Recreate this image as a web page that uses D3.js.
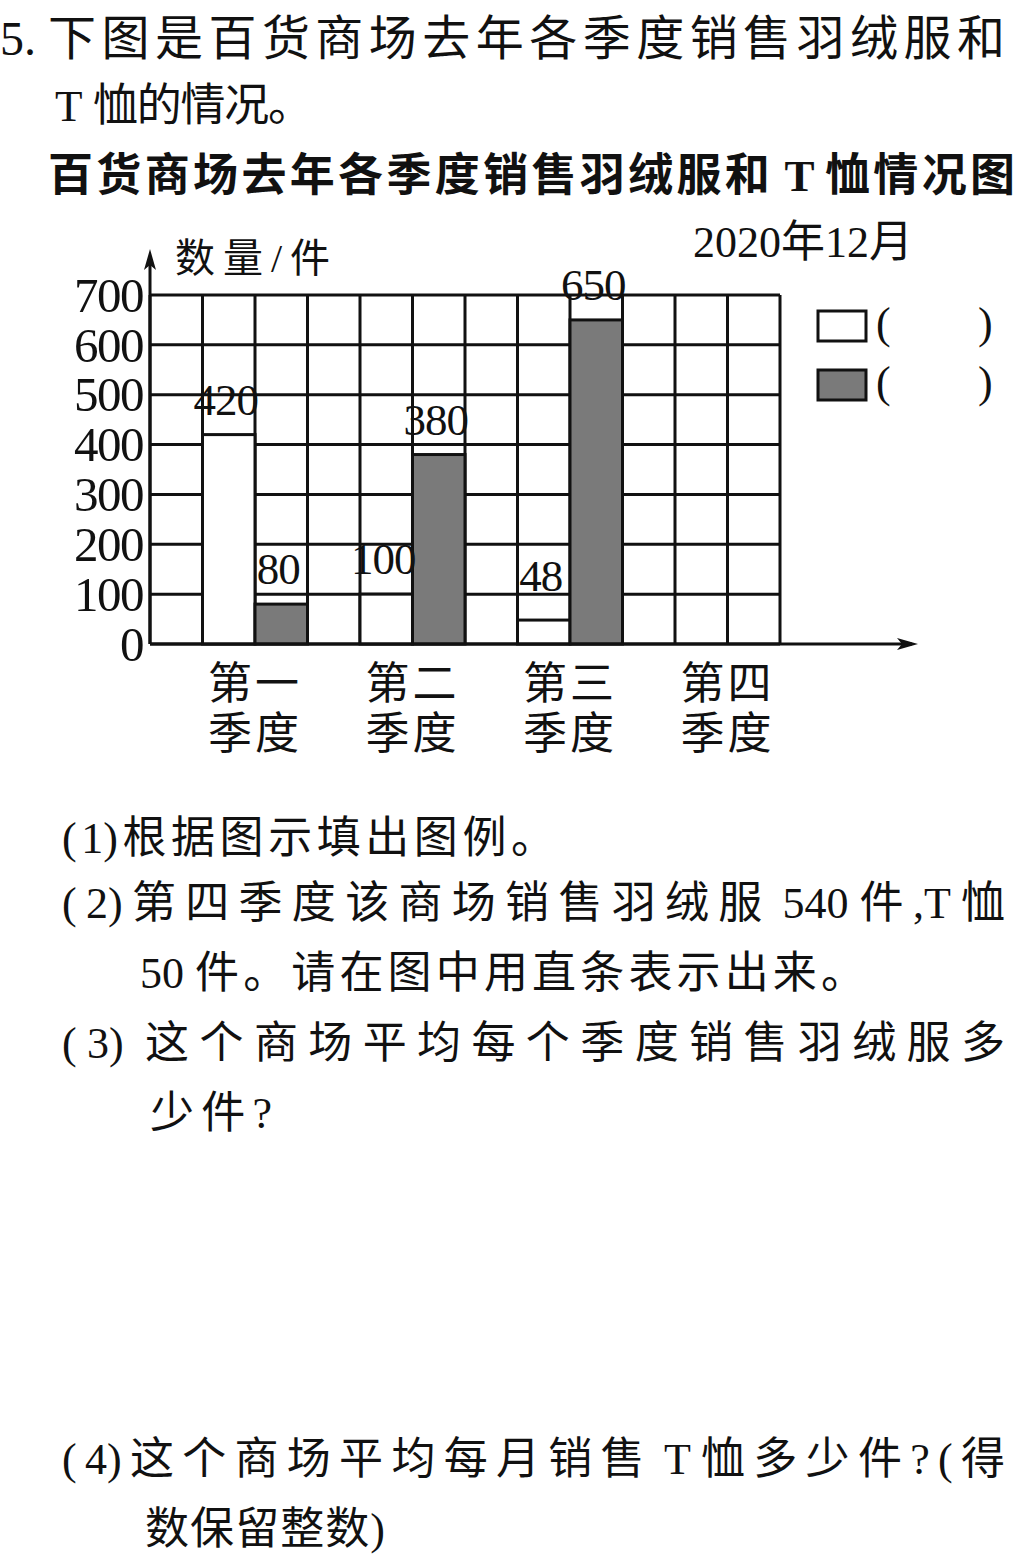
<!DOCTYPE html>
<html>
<head>
<meta charset="utf-8">
<script src="https://cdn.jsdelivr.net/npm/d3@7"></script>
<style>
  body { margin: 0; background: #fff; }
  svg { display: block; }
  text { fill: #111; }
</style>
</head>
<body>
<svg id="chart" width="1024" height="1560"></svg>
<script>
// ---- data ----
const quarters = ["第一季度", "第二季度", "第三季度", "第四季度"];
const seriesWhite = [420, 100, 48, null];   // white bars
const seriesGrey  = [80, 380, 650, null];   // grey bars
const yTicks = [0, 100, 200, 300, 400, 500, 600, 700];
const yLabel = "数量/件";
const dateLabel = "2020年12月";
const chartTitle = "百货商场去年各季度销售羽绒服和 T 恤情况图";

// ---- layout ----
const svg = d3.select("#chart");
const SERIF = "'Liberation Serif','Noto Sans CJK SC',serif";
const CJK = "'Liberation Serif','Noto Sans CJK SC',sans-serif";
const plotL = 150, plotR = 780, plotT = 295, plotB = 644;
const ink = "#111";
const greyFill = "#7a7a7a";

// text line: CJK characters and brackets get extra spacing so the line reaches a target width
const spacedClass = "\\u3000-\\u303f\\u3400-\\u9fff\\uff00-\\uffef()?/";
const runRe = new RegExp(`[${spacedClass}]+|[^${spacedClass}]+`, "g");
const spacedRe = new RegExp(`[${spacedClass}]`);
function line(txt, x, yy, size, opts = {}) {
  const t = svg.append("text")
    .attr("x", x).attr("y", yy)
    .attr("font-family", opts.family || CJK)
    .attr("font-size", size)
    .attr("font-weight", opts.weight || "normal");
  const spans = txt.match(runRe).map(r => ({ r, sp: spacedRe.test(r) }));
  const ts = t.selectAll("tspan").data(spans).join("tspan").text(d => d.r);
  if (opts.width) {
    const natural = t.node().getComputedTextLength();
    let n = d3.sum(spans, d => d.sp ? d.r.length : 0);
    if (spans[spans.length - 1].sp) n -= 1;
    const ls = n > 0 ? (opts.width - natural) / n : 0;
    ts.attr("letter-spacing", d => d.sp ? ls : 0);
  }
  return t;
}
line("5. 下图是百货商场去年各季度销售羽绒服和", 0, 55, 48, { width: 1005 });
line("T 恤的情况。", 55, 121, 45, { width: 258 });
line(chartTitle, 48, 191, 45, { weight: "bold", width: 967 });

// scales
const x0 = d3.scaleBand().domain(quarters).range([plotL, plotR]).padding(0);
const x1 = d3.scaleBand().domain(["gap", "white", "grey"]).range([0, x0.bandwidth()]).padding(0);
const y = d3.scaleLinear().domain([0, 700]).range([plotB, plotT]);
const nCols = quarters.length * x1.domain().length;
const colX = d3.scaleLinear().domain([0, nCols]).range([plotL, plotR]);

const g = svg.append("g");

// grid
g.append("g").selectAll("line").data(yTicks).join("line")
  .attr("x1", plotL).attr("x2", plotR)
  .attr("y1", d => y(d)).attr("y2", d => y(d))
  .attr("stroke", ink).attr("stroke-width", 3);
g.append("g").selectAll("line").data(d3.range(nCols + 1)).join("line")
  .attr("x1", d => colX(d)).attr("x2", d => colX(d))
  .attr("y1", plotT).attr("y2", plotB)
  .attr("stroke", ink).attr("stroke-width", 3);

// bars
const bars = [];
quarters.forEach((q, i) => {
  if (seriesWhite[i] != null) bars.push({ q, key: "white", v: seriesWhite[i] });
  if (seriesGrey[i] != null) bars.push({ q, key: "grey", v: seriesGrey[i] });
});
g.append("g").selectAll("rect").data(bars).join("rect")
  .attr("x", d => x0(d.q) + x1(d.key))
  .attr("y", d => y(d.v))
  .attr("width", x1.bandwidth())
  .attr("height", d => y(0) - y(d.v))
  .attr("fill", d => d.key === "white" ? "#fff" : greyFill)
  .attr("stroke", ink).attr("stroke-width", 3);

// value labels
g.append("g").selectAll("text").data(bars).join("text")
  .attr("x", d => x0(d.q) + x1(d.key) + x1.bandwidth() / 2 - 3)
  .attr("y", d => Math.min(y(d.v) - 20, y(100) - 3))
  .attr("text-anchor", "middle")
  .attr("font-family", SERIF).attr("font-size", 45).attr("letter-spacing", -1)
  .text(d => d.v);

// y axis (labels)
const yAxis = d3.axisLeft(y).tickValues(yTicks).tickSize(0).tickPadding(7);
const ya = svg.append("g").attr("transform", `translate(${plotL},0)`).call(yAxis);
ya.select(".domain").remove();
ya.selectAll("text").attr("font-family", SERIF).attr("font-size", 49)
  .attr("fill", ink).attr("dy", "0.33em").attr("letter-spacing", -1.5);

// axis lines with arrows
svg.append("line").attr("x1", plotL).attr("x2", plotL).attr("y1", plotB).attr("y2", 256)
  .attr("stroke", ink).attr("stroke-width", 3);
svg.append("path").attr("d", `M${plotL},249 L${plotL - 6},270 L${plotL},265 L${plotL + 6},270 Z`).attr("fill", ink);
svg.append("line").attr("x1", plotL).attr("x2", 912).attr("y1", plotB).attr("y2", plotB)
  .attr("stroke", ink).attr("stroke-width", 3);
svg.append("path").attr("d", `M918,${plotB} L897,${plotB - 6} L902,${plotB} L897,${plotB + 6} Z`).attr("fill", ink);

// axis title & date
line(yLabel, 175, 272, 40, { width: 155 });
line(dateLabel, 693, 257, 44);

// category labels
const cat = svg.append("g").selectAll("text").data(quarters).join("text")
  .attr("font-family", CJK).attr("font-size", 44)
  .attr("text-anchor", "middle").attr("letter-spacing", 3);
cat.append("tspan")
  .attr("x", d => x0(d) + x1("white") + x1.bandwidth()).attr("y", 699)
  .text(d => d.slice(0, 2));
cat.append("tspan")
  .attr("x", d => x0(d) + x1("white") + x1.bandwidth()).attr("y", 749)
  .text(d => d.slice(2));

// legend (blank to fill in)
const legendKeys = ["white", "grey"];
const lg = svg.append("g").selectAll("g").data(legendKeys).join("g")
  .attr("transform", (d, i) => `translate(818,${311 + i * 59})`);
lg.append("rect").attr("width", 48).attr("height", 30)
  .attr("fill", d => d === "white" ? "#fff" : greyFill)
  .attr("stroke", ink).attr("stroke-width", 3);
lg.append("text").attr("x", 58).attr("y", 27).attr("font-family", SERIF).attr("font-size", 44).text("(");
lg.append("text").attr("x", 160).attr("y", 27).attr("font-family", SERIF).attr("font-size", 44).text(")");

// questions
line("(1)根据图示填出图例。", 62, 853, 44, { width: 493 });
line("(2)第四季度该商场销售羽绒服 540 件,T 恤", 62, 918, 44, { width: 943 });
line("50 件。请在图中用直条表示出来。", 140, 988, 44, { width: 725 });
line("(3) 这个商场平均每个季度销售羽绒服多", 62, 1058, 44, { width: 943 });
line("少件?", 150, 1128, 44, { width: 122 });
line("(4)这个商场平均每月销售 T 恤多少件?(得", 62, 1474, 44, { width: 943 });
line("数保留整数)", 145, 1544, 44, { width: 240 });
</script>
</body>
</html>
